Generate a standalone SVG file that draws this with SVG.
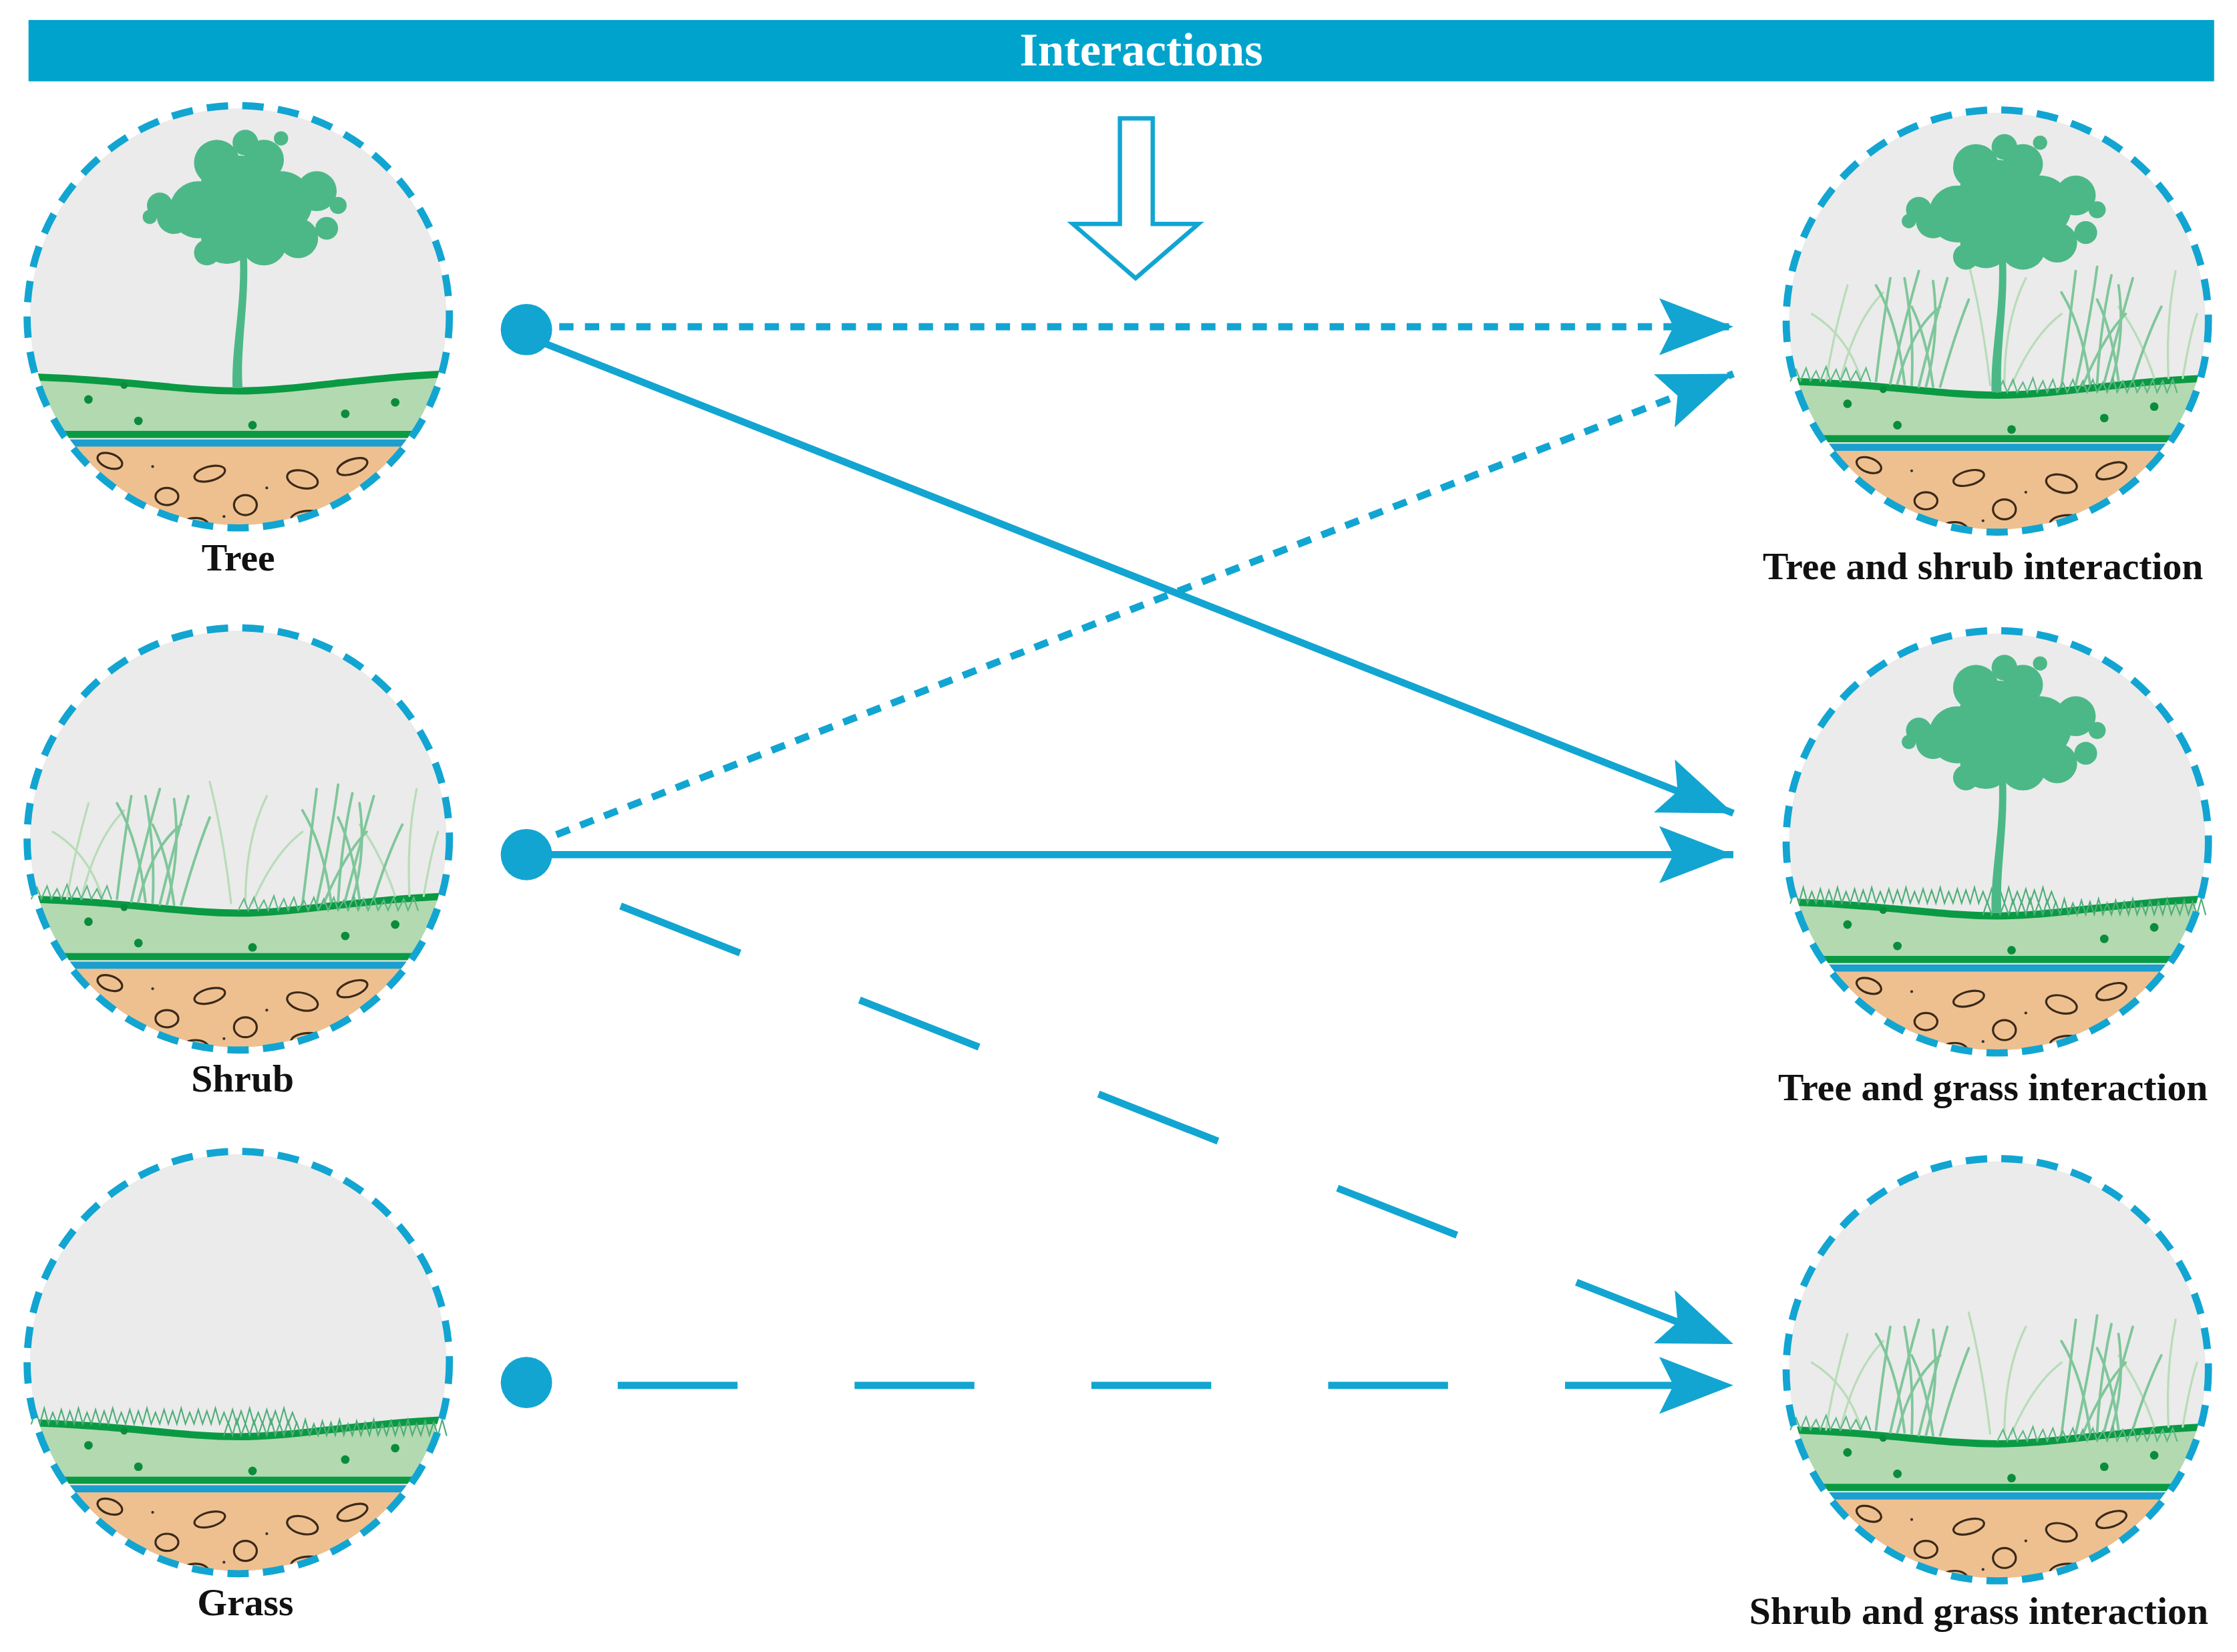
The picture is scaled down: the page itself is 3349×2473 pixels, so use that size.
<svg xmlns="http://www.w3.org/2000/svg" xmlns:xlink="http://www.w3.org/1999/xlink" width="3349" height="2473" viewBox="0 0 3349 2473">
<style>
.lbl{font-family:"Liberation Serif",serif;font-weight:bold;font-size:27px;fill:#111;text-anchor:middle}
.con{stroke:#12a5d2;stroke-width:5;fill:none}
.ring{fill:none;stroke:#12a5d2;stroke-width:5;stroke-dasharray:15 10}
.peb{fill:none;stroke:#3a2a1a;stroke-width:1.5}
.dot{fill:#0a8c3c}
.blade{fill:none;stroke-linecap:round}
</style>
<defs>
<clipPath id="cc"><circle cx="0" cy="0" r="146"/></clipPath>
<marker id="ah" markerUnits="userSpaceOnUse" markerWidth="52" markerHeight="40" viewBox="0 0 52 40" refX="52" refY="20" orient="auto"><path d="M0,0 L52,20 L0,40 L10,20 Z" fill="#12a5d2"/></marker>
<g id="base">
<g clip-path="url(#cc)">
<rect x="-150" y="-150" width="300" height="300" fill="#ebebeb"/>
<rect x="-150" y="88" width="300" height="70" fill="#efc08f"/>
<path d="M-150,42 C-80,44 -40,52 0,52 C40,52 90,42 150,40 L150,84 L-150,84 Z" fill="#b3d9b0"/>
<path d="M-150,42 C-80,44 -40,52 0,52 C40,52 90,42 150,40" fill="none" stroke="#0a9a44" stroke-width="5"/>
<rect x="-150" y="80" width="300" height="5" fill="#0a9a44"/>
<rect x="-150" y="86" width="300" height="5" fill="#1a9fcf"/>
<circle class="dot" cx="-105" cy="58" r="3"/><circle class="dot" cx="-70" cy="73" r="3"/><circle class="dot" cx="10" cy="76" r="3"/><circle class="dot" cx="75" cy="68" r="3"/><circle class="dot" cx="110" cy="60" r="3"/><circle class="dot" cx="-80" cy="48" r="2.5"/>
<ellipse class="peb" cx="-90" cy="101" rx="9" ry="5" transform="rotate(20 -90 101)"/>
<ellipse class="peb" cx="-20" cy="110" rx="11" ry="5" transform="rotate(-15 -20 110)"/>
<ellipse class="peb" cx="45" cy="114" rx="11" ry="6" transform="rotate(15 45 114)"/>
<ellipse class="peb" cx="80" cy="105" rx="11" ry="5" transform="rotate(-20 80 105)"/>
<ellipse class="peb" cx="-50" cy="126" rx="8" ry="6"/>
<ellipse class="peb" cx="5" cy="132" rx="8" ry="7"/>
<ellipse class="peb" cx="50" cy="142" rx="13" ry="6"/>
<ellipse class="peb" cx="-30" cy="146" rx="9" ry="5"/>
<circle cx="-60" cy="105" r="1" fill="#333"/><circle cx="20" cy="120" r="1" fill="#333"/><circle cx="-10" cy="140" r="1" fill="#333"/><circle cx="100" cy="128" r="1" fill="#333"/>
</g>
</g>
<g id="tree" fill="#4cb887">
<path d="M-4,50 C-5,20 3,-10 1,-45 L6,-45 C8,-10 1,20 3,50 Z"/>
<circle cx="0" cy="-85" r="28"/><circle cx="-28" cy="-75" r="20"/><circle cx="30" cy="-80" r="22"/><circle cx="-45" cy="-70" r="12"/><circle cx="-8" cy="-55" r="18"/><circle cx="18" cy="-52" r="16"/><circle cx="42" cy="-55" r="14"/><circle cx="55" cy="-88" r="14"/><circle cx="-15" cy="-108" r="16"/><circle cx="18" cy="-110" r="14"/><circle cx="5" cy="-122" r="9"/><circle cx="-55" cy="-78" r="9"/><circle cx="-62" cy="-70" r="5"/><circle cx="62" cy="-62" r="8"/><circle cx="-22" cy="-45" r="9"/><circle cx="30" cy="-125" r="5"/><circle cx="70" cy="-78" r="6"/>
</g>
<g id="tall">
<g class="blade" stroke="#b8dcb8" stroke-width="1.5">
<path d="M-120,42 Q-115,10 -105,-25"/><path d="M-110,42 Q-100,0 -80,-20"/><path d="M-95,42 Q-105,10 -130,-5"/><path d="M-5,45 Q-10,0 -20,-40"/><path d="M5,45 Q5,0 20,-30"/><path d="M10,45 Q25,10 45,-5"/><path d="M120,40 Q118,0 125,-35"/><path d="M110,40 Q100,10 85,-10"/><path d="M130,40 Q135,10 140,-5"/>
</g>
<g class="blade" stroke="#7fc69a" stroke-width="1.8">
<path d="M-85,42 Q-80,0 -75,-30"/><path d="M-75,44 Q-65,0 -55,-35"/><path d="M-65,44 Q-70,0 -85,-25"/><path d="M-55,46 Q-45,5 -35,-30"/><path d="M-45,46 Q-50,10 -60,-10"/><path d="M-40,46 Q-30,10 -20,-15"/><path d="M-70,44 Q-60,5 -40,-10"/><path d="M-60,45 Q-58,10 -65,-30"/><path d="M-50,46 Q-40,10 -45,-28"/>
<path d="M45,46 Q50,5 55,-35"/><path d="M55,45 Q65,0 70,-38"/><path d="M65,44 Q60,5 45,-20"/><path d="M75,43 Q85,5 95,-30"/><path d="M85,42 Q80,5 70,-15"/><path d="M95,42 Q105,10 115,-10"/><path d="M60,45 Q75,10 90,-5"/><path d="M70,44 Q72,5 80,-32"/><path d="M80,43 Q90,10 85,-25"/>
</g>
<g stroke="#5fb886" stroke-width="1" class="blade"><path d="M-145,42 l4,-8 l3,8 l4,-9 l3,9 l4,-7 l3,7 l4,-10 l3,10 l4,-8 l3,8 l4,-9 l3,9 l4,-7 l3,7 l4,-9 l3,9"/><path d="M0,50 l4,-8 l3,8 l4,-9 l3,9 l4,-7 l3,7 l4,-10 l3,10 l4,-8 l3,8 l4,-9 l3,9 l4,-7 l3,7 l4,-9 l3,9 l4,-8 l3,8 l4,-9 l3,9 l4,-7 l3,7 l4,-10 l3,10 l4,-8 l3,8 l4,-9 l3,9 l4,-7 l3,7 l4,-9 l3,9 l4,-8 l3,8 l4,-9 l3,9"/></g>
</g>
<g id="short" stroke="#4fae78" stroke-width="1" class="blade">
<path d="M-145,43 l3,-9 l3,9 l3,-11 l3,11 l3,-8 l3,8 l3,-10 l3,10 l3,-9 l3,9 l3,-11 l3,11 l3,-8 l3,8 l3,-10 l3,10 l3,-9 l3,9 l3,-11 l3,11 l3,-8 l3,8 l3,-10 l3,10 l3,-9 l3,9 l3,-11 l3,11 l3,-8 l3,8 l3,-10 l3,10 l3,-9 l3,9 l3,-11 l3,11 l3,-8 l3,8 l3,-10 l3,10 l3,-9 l3,9 l3,-11 l3,11 l3,-8 l3,8 l3,-10 l3,10 l3,-9 l3,9 l3,-11 l3,11 l3,-8 l3,8 l3,-10 l3,10 l3,-9 l3,9 l3,-11 l3,11 l3,-8 l3,8"/>
<path d="M-10,51 l3,-9 l3,9 l3,-11 l3,11 l3,-8 l3,8 l3,-10 l3,10 l3,-9 l3,9 l3,-11 l3,11 l3,-8 l3,8 l3,-10 l3,10 l3,-9 l3,9 l3,-11 l3,11 l3,-8 l3,8 l3,-10 l3,10 l3,-9 l3,9 l3,-11 l3,11 l3,-8 l3,8 l3,-10 l3,10 l3,-9 l3,9 l3,-11 l3,11 l3,-8 l3,8 l3,-10 l3,10 l3,-9 l3,9 l3,-11 l3,11 l3,-8 l3,8 l3,-10 l3,10 l3,-9 l3,9 l3,-11 l3,11"/>
</g>
</defs>
<g transform="scale(2.1358)">
<g id="banner"><rect x="20" y="14" width="1532" height="43" fill="#00a3cc"/><text x="800" y="46" font-family="Liberation Serif,serif" font-weight="bold" font-size="33" fill="#fff" text-anchor="middle">Interactions</text></g>
<g id="down-arrow"><path d="M785,83 L808,83 L808,157 L840,157 L796,195 L752,157 L785,157 Z" fill="#fff" stroke="#12a5d2" stroke-width="3"/></g>
<g id="tree-node" transform="translate(167,222)"><use href="#base"/><use href="#tree"/><circle class="ring" r="148"/><text class="lbl" y="178">Tree</text></g>
<g id="shrub-node" transform="translate(167,588)"><use href="#base"/><use href="#tall"/><circle class="ring" r="148"/><text class="lbl" x="3" y="177">Shrub</text></g>
<g id="grass-node" transform="translate(167,955)"><use href="#base"/><use href="#short"/><circle class="ring" r="148"/><text class="lbl" x="5" y="177">Grass</text></g>
<g id="tree-shrub" transform="translate(1400,225)"><use href="#base"/><use href="#tall"/><use href="#tree"/><circle class="ring" r="148"/><text class="lbl" x="-10" y="181">Tree and shrub interaction</text></g>
<g id="tree-grass" transform="translate(1400,590)"><use href="#base"/><use href="#short"/><use href="#tree"/><circle class="ring" r="148"/><text class="lbl" x="-3" y="181">Tree and grass interaction</text></g>
<g id="shrub-grass" transform="translate(1400,960)"><use href="#base"/><use href="#tall"/><circle class="ring" r="148"/><text class="lbl" x="-13" y="178">Shrub and grass interaction</text></g>
<g id="connectors">
<circle cx="369" cy="231" r="18" fill="#12a5d2"/><circle cx="369" cy="599" r="18" fill="#12a5d2"/><circle cx="369" cy="969" r="18" fill="#12a5d2"/>
<line class="con" x1="392" y1="229" x2="1215" y2="229" stroke-dasharray="10 8" marker-end="url(#ah)"/>
<line class="con" x1="390" y1="585" x2="1215" y2="262" stroke-dasharray="10 8" marker-end="url(#ah)"/>
<line class="con" x1="380" y1="240" x2="1215" y2="570" marker-end="url(#ah)"/>
<line class="con" x1="385" y1="599" x2="1215" y2="599" marker-end="url(#ah)"/>
<line class="con" x1="435" y1="635" x2="1215" y2="942" stroke-dasharray="90 90" marker-end="url(#ah)"/>
<line class="con" x1="433" y1="971" x2="1215" y2="971" stroke-dasharray="84 82" marker-end="url(#ah)"/>
</g>
</g>
</svg>
